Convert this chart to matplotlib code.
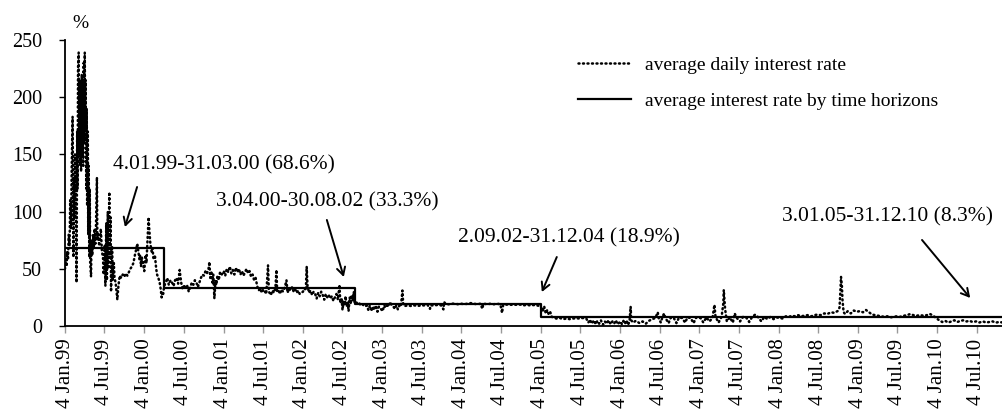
import numpy as np
import pandas as pd
import matplotlib
matplotlib.use("Agg")
import matplotlib.pyplot as plt
import matplotlib.dates as mdates

# ---- data ----
obs_dates = [
    # 1999
    "1999-01-04", "1999-01-07", "1999-01-11", "1999-01-14", "1999-01-18", "1999-01-21", "1999-01-25",
    "1999-01-28", "1999-02-01", "1999-02-04", "1999-02-08", "1999-02-10", "1999-02-12", "1999-02-15",
    "1999-02-17", "1999-02-19", "1999-02-23", "1999-02-26", "1999-03-01", "1999-03-03", "1999-03-05",
    "1999-03-08", "1999-03-10", "1999-03-12", "1999-03-15", "1999-03-17", "1999-03-19", "1999-03-22",
    "1999-03-24", "1999-03-26", "1999-03-29", "1999-03-31", "1999-04-02", "1999-04-05", "1999-04-07",
    "1999-04-09", "1999-04-12", "1999-04-14", "1999-04-16", "1999-04-19", "1999-04-21", "1999-04-23",
    "1999-04-26", "1999-04-28", "1999-04-30", "1999-05-04", "1999-05-06", "1999-05-10", "1999-05-13",
    "1999-05-17", "1999-05-20", "1999-05-24", "1999-05-27", "1999-05-31", "1999-06-02", "1999-06-07",
    "1999-06-10", "1999-06-15", "1999-06-18", "1999-06-23", "1999-06-28", "1999-07-01", "1999-07-06",
    "1999-07-09", "1999-07-13", "1999-07-16", "1999-07-20", "1999-07-23", "1999-07-27", "1999-07-29",
    "1999-08-02", "1999-08-04", "1999-08-09", "1999-08-12", "1999-08-17", "1999-08-20", "1999-08-25",
    "1999-08-30", "1999-09-02", "1999-09-07", "1999-09-13", "1999-09-20", "1999-09-27", "1999-10-04",
    "1999-10-11", "1999-10-18", "1999-10-25", "1999-11-01", "1999-11-08", "1999-11-15", "1999-11-22",
    "1999-11-29", "1999-12-03", "1999-12-08", "1999-12-13", "1999-12-16", "1999-12-20", "1999-12-24",
    "1999-12-29",
    # 2000
    "2000-01-04", "2000-01-10", "2000-01-14", "2000-01-19", "2000-01-24", "2000-01-27", "2000-02-01",
    "2000-02-07", "2000-02-11", "2000-02-16", "2000-02-22", "2000-02-28", "2000-03-03", "2000-03-09",
    "2000-03-15", "2000-03-20", "2000-03-24", "2000-03-28", "2000-03-31", "2000-04-05", "2000-04-12",
    "2000-04-19", "2000-04-26", "2000-05-04", "2000-05-11", "2000-05-18", "2000-05-25", "2000-06-01",
    "2000-06-08", "2000-06-15", "2000-06-22", "2000-06-29", "2000-07-06", "2000-07-13", "2000-07-20",
    "2000-07-27", "2000-08-03", "2000-08-10", "2000-08-17", "2000-08-24", "2000-08-31", "2000-09-07",
    "2000-09-14", "2000-09-21", "2000-09-28", "2000-10-05", "2000-10-12", "2000-10-19", "2000-10-26",
    "2000-10-30", "2000-11-03", "2000-11-08", "2000-11-13", "2000-11-17", "2000-11-22", "2000-11-27",
    "2000-12-01", "2000-12-06", "2000-12-12", "2000-12-18", "2000-12-26",
    # 2001
    "2001-01-04", "2001-01-11", "2001-01-18", "2001-01-25", "2001-02-01", "2001-02-08", "2001-02-15",
    "2001-02-22", "2001-03-01", "2001-03-08", "2001-03-15", "2001-03-22", "2001-03-29", "2001-04-05",
    "2001-04-12", "2001-04-19", "2001-04-26", "2001-05-03", "2001-05-10", "2001-05-17", "2001-05-24",
    "2001-05-31", "2001-06-07", "2001-06-14", "2001-06-21", "2001-06-28", "2001-07-05", "2001-07-13",
    "2001-07-19", "2001-07-27", "2001-07-31", "2001-08-09", "2001-08-16", "2001-08-23", "2001-08-30",
    "2001-09-04", "2001-09-07", "2001-09-14", "2001-09-20", "2001-09-27", "2001-10-04", "2001-10-11",
    "2001-10-20", "2001-10-25", "2001-11-01", "2001-11-08", "2001-11-15", "2001-11-22", "2001-11-29",
    "2001-12-06", "2001-12-13", "2001-12-20",
    # 2002
    "2002-01-04", "2002-01-11", "2002-01-17", "2002-01-21", "2002-01-25", "2002-02-01", "2002-02-08",
    "2002-02-15", "2002-02-22", "2002-03-01", "2002-03-08", "2002-03-15", "2002-03-22", "2002-03-29",
    "2002-04-05", "2002-04-12", "2002-04-19", "2002-04-26", "2002-05-03", "2002-05-10", "2002-05-17",
    "2002-05-24", "2002-05-31", "2002-06-07", "2002-06-14", "2002-06-21", "2002-06-25", "2002-07-01",
    "2002-07-05", "2002-07-10", "2002-07-15", "2002-07-19", "2002-07-24", "2002-07-29", "2002-08-02",
    "2002-08-07", "2002-08-12", "2002-08-16", "2002-08-21", "2002-08-26", "2002-08-30", "2002-09-06",
    "2002-09-13", "2002-09-20", "2002-09-27", "2002-10-04", "2002-10-11", "2002-10-18", "2002-10-25",
    "2002-11-01", "2002-11-08", "2002-11-15", "2002-11-22", "2002-11-29", "2002-12-06", "2002-12-13",
    "2002-12-20",
    # 2003
    "2003-01-06", "2003-01-13", "2003-01-20", "2003-01-27", "2003-02-03", "2003-02-10", "2003-02-17",
    "2003-02-24", "2003-03-03", "2003-03-10", "2003-03-17", "2003-03-24", "2003-03-31", "2003-04-07",
    "2003-04-11", "2003-04-18", "2003-05-02", "2003-05-16", "2003-06-02", "2003-06-16", "2003-07-01",
    "2003-07-15", "2003-08-01", "2003-08-12", "2003-08-15", "2003-09-01", "2003-09-19", "2003-10-03",
    "2003-10-13", "2003-10-16", "2003-10-24", "2003-11-07", "2003-11-21", "2003-12-05", "2003-12-19",
    # 2004
    "2004-01-02", "2004-01-16", "2004-02-02", "2004-02-16", "2004-03-01", "2004-03-15", "2004-04-01",
    "2004-04-09", "2004-04-14", "2004-05-03", "2004-05-17", "2004-06-01", "2004-06-15", "2004-07-01",
    "2004-07-09", "2004-07-14", "2004-08-02", "2004-08-16", "2004-09-01", "2004-09-15", "2004-10-01",
    "2004-10-15", "2004-11-01", "2004-11-15", "2004-12-01", "2004-12-15", "2004-12-30",
    # 2005
    "2005-01-05", "2005-01-12", "2005-01-19", "2005-01-26", "2005-02-02", "2005-02-09", "2005-02-16",
    "2005-02-23", "2005-03-02", "2005-03-16", "2005-04-01", "2005-04-15", "2005-05-02", "2005-05-16",
    "2005-06-01", "2005-06-15", "2005-07-01", "2005-07-15", "2005-08-01", "2005-08-10", "2005-08-18",
    "2005-08-26", "2005-09-05", "2005-09-13", "2005-09-21", "2005-09-29", "2005-10-07", "2005-10-17",
    "2005-10-25", "2005-11-03", "2005-11-11", "2005-11-21", "2005-11-29", "2005-12-07", "2005-12-15",
    "2005-12-23",
    # 2006
    "2006-01-05", "2006-01-12", "2006-01-19", "2006-01-26", "2006-02-02", "2006-02-09", "2006-02-16",
    "2006-02-21", "2006-02-24", "2006-03-03", "2006-03-17", "2006-04-03", "2006-04-17", "2006-05-02",
    "2006-05-16", "2006-06-01", "2006-06-15", "2006-06-26", "2006-06-30", "2006-07-10", "2006-07-17",
    "2006-07-25", "2006-07-31", "2006-08-15", "2006-08-25", "2006-09-08", "2006-09-20", "2006-10-02",
    "2006-10-16", "2006-10-30", "2006-11-10", "2006-11-24", "2006-12-08", "2006-12-20",
    # 2007
    "2007-01-09", "2007-01-22", "2007-02-05", "2007-02-19", "2007-03-05", "2007-03-14", "2007-03-19",
    "2007-04-02", "2007-04-16", "2007-04-24", "2007-04-26", "2007-05-02", "2007-05-10", "2007-05-24",
    "2007-06-07", "2007-06-15", "2007-06-25", "2007-07-10", "2007-07-24", "2007-08-07", "2007-08-21",
    "2007-09-04", "2007-09-18", "2007-10-02", "2007-10-16", "2007-10-30", "2007-11-13", "2007-11-27",
    "2007-12-11", "2007-12-26",
    # 2008
    "2008-01-09", "2008-01-23", "2008-02-06", "2008-02-20", "2008-03-05", "2008-03-19", "2008-04-02",
    "2008-04-16", "2008-05-02", "2008-05-16", "2008-06-02", "2008-06-16", "2008-07-01", "2008-07-15",
    "2008-08-01", "2008-08-15", "2008-09-01", "2008-09-15", "2008-10-01", "2008-10-10", "2008-10-14",
    "2008-10-17", "2008-10-21", "2008-10-24", "2008-10-29", "2008-11-05", "2008-11-17", "2008-12-01",
    "2008-12-15", "2008-12-29",
    # 2009
    "2009-01-12", "2009-01-26", "2009-02-09", "2009-02-23", "2009-03-09", "2009-03-23", "2009-04-06",
    "2009-04-20", "2009-05-04", "2009-05-18", "2009-06-01", "2009-06-15", "2009-07-01", "2009-07-15",
    "2009-08-03", "2009-08-17", "2009-09-01", "2009-09-15", "2009-10-01", "2009-10-15", "2009-11-02",
    "2009-11-16", "2009-12-01", "2009-12-15", "2009-12-29",
    # 2010
    "2010-01-12", "2010-01-26", "2010-02-09", "2010-02-23", "2010-03-09", "2010-03-23", "2010-04-06",
    "2010-04-20", "2010-05-04", "2010-05-18", "2010-06-01", "2010-06-15", "2010-07-01", "2010-07-15",
    "2010-08-02", "2010-08-16", "2010-09-01", "2010-09-15", "2010-10-01", "2010-10-15", "2010-11-01",
    "2010-11-15", "2010-12-01", "2010-12-15", "2010-12-31",
]

daily_rate = [
    # 1999
    50, 60, 52, 65, 58, 80, 70,
    110, 85, 140, 183, 120, 60, 130,
    95, 150, 110, 38, 170, 120, 225,
    239, 150, 215, 140, 205, 135, 220,
    150, 210, 140, 230, 160, 239, 170,
    215, 120, 190, 105, 170, 80, 140,
    60, 120, 55, 43, 75, 62, 80,
    68, 85, 72, 90, 130, 75, 80,
    70, 78, 85, 65, 60, 45, 70,
    35, 90, 40, 100, 50, 117, 60,
    95, 30, 70, 40, 55, 42, 38,
    28, 23, 35, 44, 42, 45, 43,
    46, 44, 47, 50, 52, 55, 62,
    68, 72, 65, 58, 62, 52, 60,
    55,
    # 2000
    48, 62, 55, 75, 95, 85, 72,
    65, 68, 58, 62, 50, 45, 42,
    38, 32, 25, 30, 28, 35, 38,
    42, 36, 40, 38, 35, 40, 42,
    37, 49, 38, 32, 36, 33, 35,
    30, 34, 38, 36, 40, 38, 34,
    38, 42, 45, 44, 48, 46, 50,
    56, 42, 48, 38, 45, 24, 40,
    36, 44, 40, 47, 45,
    # 2001
    48, 44, 50, 47, 52, 46, 49,
    45, 51, 47, 50, 45, 48, 44,
    47, 50, 46, 48, 43, 45, 40,
    42, 35, 31, 33, 29, 32, 30,
    28, 53, 30, 27, 31, 29, 33,
    49, 30, 31, 28, 32, 30, 33,
    40, 29, 33, 31, 34, 30, 32,
    29, 31, 28,
    # 2002
    30, 33, 31, 52, 35, 29, 31,
    27, 30, 28, 24, 29, 26, 30,
    27, 23, 28, 25, 27, 24, 26,
    22, 25, 28, 23, 36, 20, 24,
    14, 22, 18, 26, 17, 21, 13,
    25, 19, 27, 22, 30, 20, 21,
    19, 20, 18, 19, 18, 17, 18,
    14, 18, 13, 17, 14, 18, 12.5,
    17,
    # 2003
    13, 18, 16, 18, 17, 21, 18,
    17, 15, 18, 14.5, 18, 17, 31,
    18, 17.5, 18, 17.5, 18, 17.5, 18,
    18, 18.5, 15, 18, 18, 18.5, 18,
    14.5, 21, 19, 19, 19.5, 19.5, 19,
    # 2004
    19.5, 19, 19.5, 20, 19.5, 19, 19.5,
    15, 19.5, 19, 19.5, 19, 19.5, 19,
    11.4, 18.5, 18.7, 18.5, 18.7, 18.5, 18.7,
    18, 18.5, 18, 18.3, 18, 17.5,
    # 2005
    16, 13, 17, 11, 14, 10, 12,
    8, 7.5, 6.5, 7, 6, 6.5, 6,
    6.5, 6.8, 6.5, 7, 6.5, 3, 5.5,
    2, 5, 1.5, 4.5, 2, 5, 1,
    4, 2, 5, 1.5, 4, 2, 5,
    1.5,
    # 2006
    4, 1.5, 4.5, 2, 5, 1, 4,
    17, 5, 3, 4.5, 2.5, 4, 2,
    4.5, 6, 7, 12, 7, 3, 7.5,
    11, 7, 2.5, 7.5, 7, 2.5, 7.5,
    7, 3, 7.5, 7, 2.5, 7.5,
    # 2007
    7, 3, 7.5, 4, 7, 18.5, 8,
    3, 8, 20, 31.5, 15, 4, 7.5,
    3, 11, 7, 4, 8, 7.5, 3.5,
    8, 10, 7.5, 4, 8, 6, 8,
    6, 7.5,
    # 2008
    7, 6.5, 8.5, 8, 9, 8.5, 9.5,
    8.5, 9, 9.5, 8.5, 9.5, 10, 9.5,
    11, 10.5, 12, 11.5, 13, 16, 30,
    43, 35, 22, 12, 10.5, 13, 11,
    13.5, 12.5,
    # 2009
    13, 12, 14, 12, 10, 9.5, 9,
    8.5, 8, 8.5, 7.5, 8, 8.5, 8,
    9, 9.5, 10.5, 9.5, 9, 9.5, 9,
    9.5, 10.5, 9, 7,
    # 2010
    5, 3.5, 4.5, 3, 4, 5, 3.5,
    4.5, 5, 4, 4.5, 3.5, 4, 3,
    4, 3, 3.5, 4, 3, 3.5, 3,
    3.5, 3, 3.5, 3,
]

period_start = ["1999-01-04", "2000-04-03", "2002-09-02", "2005-01-03"]
period_end = ["2000-03-31", "2002-08-30", "2004-12-31", "2010-12-31"]
period_mean = [68.6, 33.3, 18.9, 8.3]
period_labels = ["4.01.99-31.03.00 (68.6%)", "3.04.00-30.08.02 (33.3%)",
                 "2.09.02-31.12.04 (18.9%)", "3.01.05-31.12.10 (8.3%)"]

# annotation placement: text centre, arrow tail, arrow tip (date, %)
label_pos = [("2001-01-05", 140.7), ("2002-04-26", 108.4), ("2005-05-13", 77.0), ("2009-05-19", 95.0)]
arrow_tail = [("1999-12-02", 121.5), ("2002-04-24", 92.7), ("2005-03-18", 60.3), ("2009-10-25", 75.2)]
arrow_tip = [("1999-10-07", 86.5), ("2002-07-11", 42.8), ("2005-01-08", 29.7), ("2010-06-04", 24.5)]

SERIF = "Liberation Serif"
plt.rcParams["font.family"] = SERIF


def dnum(s):
    return mdates.date2num(pd.Timestamp(s))


fig = plt.figure(figsize=(10.03, 4.12), dpi=100)
ax = fig.add_axes([65 / 1003, 86 / 412, 938 / 1003, 286 / 412])

x = pd.to_datetime(obs_dates)
ax.plot(x, daily_rate, color="black", lw=1.8, linestyle=(0, (0.4, 1.4)),
        dash_capstyle="round", label="average daily interest rate")

step_x = pd.to_datetime(period_start + [period_end[-1]])
step_y = period_mean + [period_mean[-1]]
ax.step(step_x, step_y, where="post", color="black", lw=1.6,
        label="average interest rate by time horizons")

for lab, pos, tail, tip in zip(period_labels, label_pos, arrow_tail, arrow_tip):
    ax.text(dnum(pos[0]), pos[1], lab, ha="center", va="center", fontsize=15.5)
    ax.annotate("", xy=(dnum(tip[0]), tip[1]), xytext=(dnum(tail[0]), tail[1]),
                arrowprops=dict(arrowstyle="->,head_length=0.55,head_width=0.3",
                                color="black", lw=1.4, shrinkA=0, shrinkB=0),
                annotation_clip=False)

ax.set_xlim(dnum("1999-01-04"), dnum("2010-11-02"))
ax.set_ylim(0, 250)
ax.set_yticks(np.arange(0, 251, 50))

ticks = []
tick_labels = []
for yr in range(1999, 2011):
    for mon, name in [(1, "Jan"), (7, "Jul")]:
        ticks.append(pd.Timestamp(yr, mon, 4))
        tick_labels.append(f"4 {name}.{yr % 100:02d}")
ax.set_xticks(ticks)
ax.set_xticklabels(tick_labels, rotation=90, fontsize=15)

ax.tick_params(axis="y", labelsize=14.5, length=4.5, width=1, pad=12, direction="out")
ax.tick_params(axis="x", length=5, width=1, pad=4, direction="out", color="#999999")
for side in ("top", "right"):
    ax.spines[side].set_visible(False)
for side in ("left", "bottom"):
    ax.spines[side].set_linewidth(1.3)

fig.text(80 / 1003, 1 - 24 / 412, "%", ha="center", va="center", fontsize=14)

ax.legend(loc="upper left", bbox_to_anchor=(578 / 1003, 1 - 56 / 412),
          bbox_transform=fig.transFigure, frameon=False, fontsize=14,
          handlelength=2.7, handletextpad=0.75, labelspacing=0.95,
          borderpad=0, borderaxespad=0)

fig.savefig("out.png", dpi=100)
